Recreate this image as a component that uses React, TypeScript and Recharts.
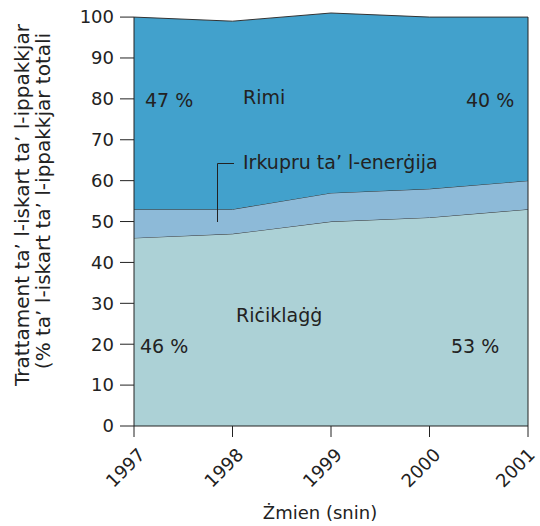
import React from 'react';
import { AreaChart, Area, XAxis, YAxis, ReferenceLine } from 'recharts';

const years = [1997, 1998, 1999, 2000, 2001];
const recycling = [46, 47, 50, 51, 53];
const energyRecovery = [7, 6, 7, 7, 7];
const landfill = [47, 46, 44, 42, 40];
const yTicks = [0, 10, 20, 30, 40, 50, 60, 70, 80, 90, 100];

const chartData = years.map((year, i) => ({
  year,
  recycling: recycling[i],
  energy: energyRecovery[i],
  landfill: landfill[i],
}));

const FONT = 'DejaVu Sans';
const INK = '#222';

const XTick = (props: any) => {
  const { x, y, payload } = props;
  const tx = x + 12;
  const ty = y + 17;
  return (
    <text x={tx} y={ty} transform={`rotate(-45 ${tx} ${ty})`} textAnchor="end" fontSize={18} fill={INK}>
      {payload.value}
    </text>
  );
};

// text annotations and titles, laid over the chart in page pixels
const Annotations = () => (
  <svg
    width={540}
    height={526}
    style={{ position: 'absolute', left: 0, top: 0, pointerEvents: 'none', fontFamily: FONT }}
  >
    <g fill={INK} fontSize={19}>
      <text x={145} y={107}>47 %</text>
      <text x={243} y={104}>Rimi</text>
      <text x={466} y={107}>40 %</text>
      <text x={243} y={169}>Irkupru ta’ l-enerġija</text>
      <path d="M234,163.5 H217.5 V222" stroke={INK} strokeWidth={1} fill="none" />
      <text x={236} y={322}>Riċiklaġġ</text>
      <text x={140} y={353}>46 %</text>
      <text x={451} y={353}>53 %</text>
      <text x={320} y={519} textAnchor="middle" fontSize={18}>Żmien (snin)</text>
      <text x={29} y={205} textAnchor="middle" fontSize={20} transform="rotate(-90 29 205)">
        Trattament ta’ l-iskart ta’ l-ippakkjar
      </text>
      <text x={50} y={201} textAnchor="middle" fontSize={20} transform="rotate(-90 50 201)">
        (% ta’ l-iskart ta’ l-ippakkjar totali
      </text>
    </g>
  </svg>
);

const App = () => {
  return (
    <div style={{ position: 'absolute', left: 0, top: 0, width: 540, height: 526, fontFamily: FONT, background: '#fff' }}>
      <AreaChart width={540} height={526} data={chartData} margin={{ top: 13, right: 12, bottom: 0, left: 0 }}>
        <XAxis
          dataKey="year"
          type="number"
          domain={[1997, 2001]}
          ticks={years}
          height={100}
          tickSize={11}
          tick={<XTick />}
          stroke={INK}
          tickLine={{ stroke: INK }}
        />
        <YAxis
          type="number"
          domain={[0, 101]}
          ticks={yTicks}
          width={134}
          tickSize={14}
          tickMargin={6}
          axisLine={false}
          tick={{ fontSize: 18, fill: INK }}
          tickLine={{ stroke: INK }}
        />
        <Area
          type="linear"
          dataKey="recycling"
          stackId="a"
          fill="#acd1d6"
          fillOpacity={1}
          stroke="#333"
          strokeWidth={1}
          isAnimationActive={false}
        />
        <Area
          type="linear"
          dataKey="energy"
          stackId="a"
          fill="#8dbad8"
          fillOpacity={1}
          stroke="#333"
          strokeWidth={1}
          isAnimationActive={false}
        />
        <Area
          type="linear"
          dataKey="landfill"
          stackId="a"
          fill="#42a1cc"
          fillOpacity={1}
          stroke="#333"
          strokeWidth={1}
          isAnimationActive={false}
        />
        <ReferenceLine segment={[{ x: 1997, y: 0 }, { x: 1997, y: 100 }]} stroke={INK} />
        <ReferenceLine segment={[{ x: 2001, y: 0 }, { x: 2001, y: 100 }]} stroke={INK} />
      </AreaChart>
      <Annotations />
    </div>
  );
};

export default App;
